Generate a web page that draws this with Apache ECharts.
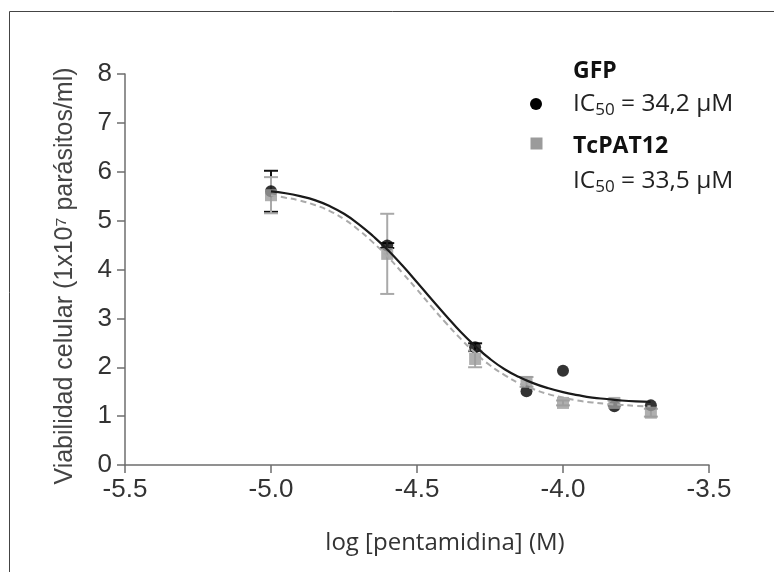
<!DOCTYPE html>
<html>
<head>
<meta charset="utf-8">
<script src="https://cdn.jsdelivr.net/npm/echarts@6/dist/echarts.min.js"></script>
<style>
  html, body { margin: 0; padding: 0; background: #fff; }
  #chart { width: 774px; height: 572px; }
</style>
</head>
<body>
<div id="chart"></div>
<script>
// log [pentamidina] for 10, 25, 50, 75, 100, 150, 200 uM
var logConc = [-5.0, -4.602, -4.301, -4.125, -4.0, -3.824, -3.699];

// GFP measured means and SD (0 = bar hidden behind the dot)
var gfpMean = [5.60, 4.49, 2.41, 1.51, 1.93, 1.20, 1.22];
var gfpErr  = [0.42, 0.05, 0.08, 0, 0, 0, 0];

// TcPAT12 measured means and SD
var patMean = [5.52, 4.32, 2.17, 1.70, 1.27, 1.27, 1.07];
var patErr  = [0.37, 0.82, 0.17, 0.10, 0.05, 0.05, 0.08];

// fitted curves
var fitX   = [-5.0, -4.95, -4.9, -4.85, -4.8, -4.75, -4.7, -4.65, -4.6, -4.55, -4.5, -4.45, -4.4, -4.35,
              -4.3, -4.25, -4.2, -4.15, -4.1, -4.05, -4.0, -3.95, -3.9, -3.85, -3.8, -3.75, -3.7];
var gfpFit = [5.60, 5.56, 5.50, 5.42, 5.30, 5.14, 4.93, 4.68, 4.40, 4.08, 3.74, 3.39, 3.05, 2.72,
              2.43, 2.17, 1.96, 1.80, 1.67, 1.57, 1.49, 1.43, 1.38, 1.35, 1.32, 1.30, 1.29];
var patFit = [5.52, 5.47, 5.41, 5.32, 5.20, 5.03, 4.81, 4.55, 4.26, 3.93, 3.59, 3.24, 2.90, 2.58,
              2.29, 2.04, 1.84, 1.67, 1.55, 1.45, 1.38, 1.32, 1.28, 1.25, 1.23, 1.21, 1.20];

function pairs(xs, ys) {
  var out = [];
  for (var i = 0; i < xs.length; i++) out.push([xs[i], ys[i]]);
  return out;
}
function errData(xs, m, e) {
  var out = [];
  for (var i = 0; i < xs.length; i++) {
    if (e[i] > 0) out.push([xs[i], m[i] - e[i], m[i] + e[i]]);
  }
  return out;
}
function errBar(color) {
  return function (params, api) {
    var lo = api.coord([api.value(0), api.value(1)]);
    var hi = api.coord([api.value(0), api.value(2)]);
    var w = 7;
    var st = { stroke: color, lineWidth: 2 };
    return {
      type: 'group',
      children: [
        { type: 'line', shape: { x1: lo[0], y1: lo[1], x2: hi[0], y2: hi[1] }, style: st },
        { type: 'line', shape: { x1: lo[0] - w, y1: lo[1], x2: lo[0] + w, y2: lo[1] }, style: st },
        { type: 'line', shape: { x1: hi[0] - w, y1: hi[1], x2: hi[0] + w, y2: hi[1] }, style: st }
      ]
    };
  };
}

var chart = echarts.init(document.getElementById('chart'));
var axisCol = '#6e6e6e';
var labFont = 'Liberation Sans, Arial, sans-serif';
var legFont = 'Open Sans, Noto Sans, sans-serif';
var richIC = {
  n: { font: '24.5px ' + legFont, fill: '#222' },
  s: { font: '17px ' + legFont, fill: '#222', verticalAlign: 'bottom', padding: [12, 0, 0, 0] }
};

var option = {
  animation: false,
  grid: { left: 125, right: 65, top: 74, bottom: 107 },
  xAxis: {
    type: 'value', min: -5.5, max: -3.5, interval: 0.5,
    name: 'log [pentamidina] (M)', nameLocation: 'middle', nameGap: 66,
    nameTextStyle: { fontFamily: legFont, fontSize: 24, color: '#333', padding: [0, 0, 0, 56] },
    axisLine: { onZero: false, lineStyle: { color: axisCol, width: 1.5 } },
    axisTick: { length: 8, lineStyle: { color: axisCol, width: 1.5 } },
    axisLabel: {
      fontFamily: labFont, fontSize: 26, color: '#333', margin: 12,
      formatter: function (v) { return v.toFixed(1); }
    },
    splitLine: { show: false }
  },
  yAxis: {
    type: 'value', min: 0, max: 8, interval: 1,
    name: 'Viabilidad celular (1x10⁷ parásitos/ml)', nameLocation: 'middle', nameGap: 47,
    nameTextStyle: { fontFamily: labFont, fontSize: 25, color: '#444', padding: [0, 13, 0, 0] },
    axisLine: { lineStyle: { color: axisCol, width: 1.5 } },
    axisTick: { length: 8, lineStyle: { color: axisCol, width: 1.5 } },
    axisLabel: { fontFamily: labFont, fontSize: 26, color: '#333', margin: 13 },
    splitLine: { show: false }
  },
  graphic: [
    { type: 'rect', shape: { x: 9.5, y: 11.5, width: 800, height: 600 },
      style: { fill: 'none', stroke: '#444', lineWidth: 1 }, silent: true },
    { type: 'circle', shape: { cx: 536, cy: 104, r: 6 }, style: { fill: '#000' } },
    { type: 'rect', shape: { x: 530.5, y: 137.5, width: 12, height: 12 }, style: { fill: '#9b9b9b' } },
    { type: 'text', left: 573, top: 60,
      style: { text: 'GFP', font: 'bold 23px ' + legFont, fill: '#111' } },
    { type: 'text', left: 573, top: 92,
      style: { text: '{n|IC}{s|50}{n| = 34,2 µM}', rich: richIC } },
    { type: 'text', left: 573, top: 135,
      style: { text: 'TcPAT12', font: 'bold 23px ' + legFont, fill: '#111' } },
    { type: 'text', left: 573, top: 169,
      style: { text: '{n|IC}{s|50}{n| = 33,5 µM}', rich: richIC } }
  ],
  series: [
    { type: 'custom', name: 'GFP err', renderItem: errBar('#111'), data: errData(logConc, gfpMean, gfpErr), z: 2 },
    { type: 'custom', name: 'TcPAT12 err', renderItem: errBar('#a9a9a9'), data: errData(logConc, patMean, patErr), z: 2 },
    { type: 'scatter', name: 'GFP', data: pairs(logConc, gfpMean), symbol: 'circle', symbolSize: 12,
      itemStyle: { color: '#000' }, z: 3 },
    { type: 'scatter', name: 'TcPAT12', data: pairs(logConc, patMean), symbol: 'rect', symbolSize: 12,
      itemStyle: { color: '#9b9b9b' }, z: 4 },
    { type: 'line', name: 'TcPAT12 fit', data: pairs(fitX, patFit), smooth: 0.5,
      showSymbol: false, lineStyle: { color: '#aaaaaa', width: 2, type: [6, 4] }, z: 5 },
    { type: 'line', name: 'GFP fit', data: pairs(fitX, gfpFit), smooth: 0.5,
      showSymbol: false, lineStyle: { color: '#1a1a1a', width: 2.2 }, z: 6 }
  ]
};
chart.setOption(option);
</script>
</body>
</html>
